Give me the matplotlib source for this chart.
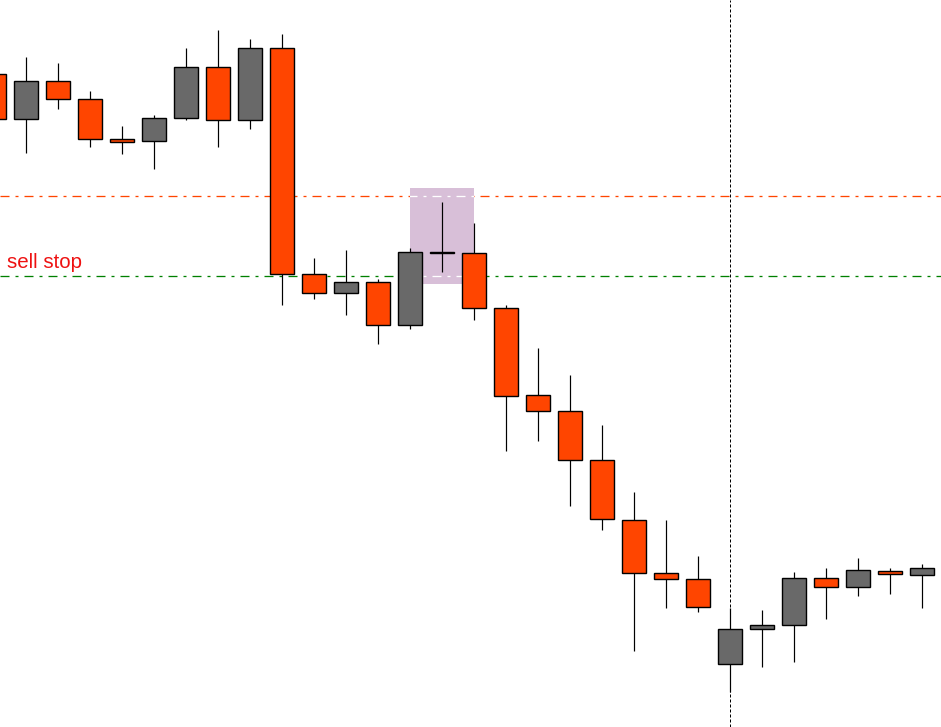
import matplotlib
matplotlib.use("Agg")
import matplotlib.pyplot as plt
from matplotlib.patches import Rectangle

# Candle data (price units; higher = up)
opens  = [653.0, 607.7, 645.7, 627.7, 587.7, 585.7, 608.7, 659.7, 606.7, 678.7,
          452.7, 433.7, 444.7, 401.7, 474.8, 473.7, 418.7, 331.7, 315.7, 266.7,
          206.7, 153.7, 147.7, 62.7, 97.7, 101.7, 148.7, 139.7, 155.7, 151.7]
highs  = [667.0, 670.0, 664.0, 636.0, 601.0, 612.0, 679.0, 697.0, 688.0, 693.0,
          469.0, 477.0, 448.0, 479.0, 525.0, 504.0, 422.0, 379.0, 352.0, 302.0,
          234.7, 206.7, 170.7, 119.0, 117.0, 155.0, 159.0, 169.0, 159.0, 163.0]
lows   = [597.0, 574.3, 618.3, 580.3, 573.3, 558.3, 607.3, 580.3, 598.3, 422.3,
          428.3, 412.3, 383.3, 398.3, 455.3, 407.3, 276.3, 286.3, 221.3, 197.3,
          76.3, 119.3, 115.3, 35.3, 60.3, 65.3, 108.3, 131.3, 133.3, 119.3]
closes = [607.7, 645.7, 627.7, 587.7, 584.7, 608.7, 659.7, 606.7, 678.7, 452.7,
          433.7, 444.7, 401.7, 474.7, 474.0, 418.7, 330.7, 315.7, 266.7, 207.7,
          153.7, 147.7, 119.7, 97.7, 101.7, 148.7, 139.7, 156.7, 152.7, 158.7]

upper_level = 531.0        # orange dash-dot line
sell_stop_level = 451.5    # green dash-dot line
zone_start, zone_end = 13, 15          # shaded zone (candle index)
zone_top, zone_bottom = 539.3, 443.3
vline_index = 23
label_text = "sell stop"

BULL = "#696969"
BEAR = "#FF4500"
ZONE = "#D8BFD8"
PX = 72 / 100.0  # one pixel in points at dpi 100

fig = plt.figure(figsize=(9.41, 7.27), dpi=100)
ax = fig.add_axes([0, 0, 1, 1])
ax.set_xlim(0.1875, 29.59375)
ax.set_ylim(0, 727)
ax.axis("off")

LW = 1.3
dash = (0, (9 / LW, 6 / LW, 3 / LW, 6 / LW))
ax.axhline(upper_level, color=BEAR, lw=LW * PX, linestyle=dash, zorder=1)
ax.axhline(sell_stop_level, color="#008000", lw=LW * PX, linestyle=dash, zorder=1)
ax.axvline(vline_index, color="black", lw=1 * PX, linestyle=(0, (3, 2)), zorder=1)

zone = Rectangle((zone_start, zone_bottom), zone_end - zone_start, zone_top - zone_bottom,
                 facecolor=ZONE, edgecolor="none", zorder=2)
ax.add_patch(zone)
for lvl in (upper_level, sell_stop_level):
    l, = ax.plot([0.1875, 29.59375], [lvl, lvl], color="white", lw=LW * PX,
                 linestyle=dash, zorder=2.5)
    l.set_clip_path(zone)

w = 0.75
for i, (o, h, lo, c) in enumerate(zip(opens, highs, lows, closes)):
    ax.vlines(i, lo, h, color="black", lw=1.2 * PX, zorder=3)
    col = BULL if c > o else BEAR
    bottom = min(o, c)
    height = abs(c - o)
    ax.add_patch(Rectangle((i - w / 2, bottom), w, height, facecolor=col,
                           edgecolor="black", lw=1.4 * PX, zorder=4))

ax.text(0.406, 459.3, label_text, color="#EE1111", fontsize=14.8,
        family=["Liberation Sans", "DejaVu Sans"], ha="left", va="baseline", zorder=5)

fig.savefig("out.png", dpi=100)
